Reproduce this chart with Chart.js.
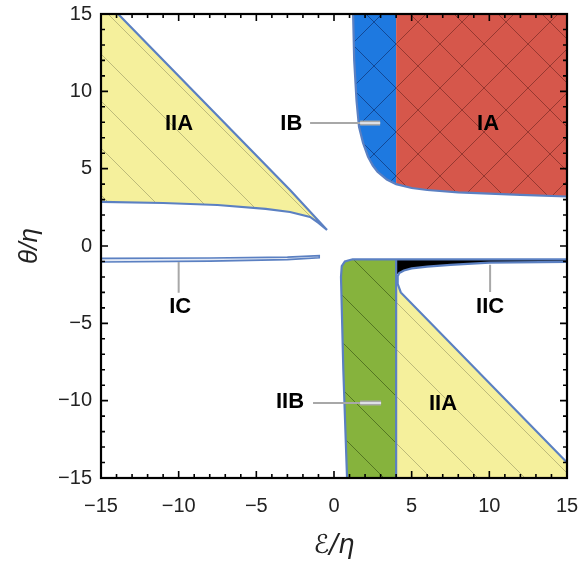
<!DOCTYPE html>
<html>
<head>
    <title>Phase diagram</title>
    <script src="https://cdn.jsdelivr.net/npm/chart.js@4.4.1/dist/chart.umd.min.js"></script>
    <style>
        body { margin: 0; background: #fff; }
    </style>
</head>
<body>
    <canvas id="myChart" width="582" height="564"></canvas>

    <script>
        // region outlines, as [eps/eta, theta/eta]
        var regionIA = [[4, 15], [15, 15], [15, 3.2], [12, 3.3], [10, 3.38], [8, 3.47], [6, 3.62], [5, 3.75], [4, 4.0]];
        var regionIB = [[1.23, 15], [4, 15], [4, 4.0], [3.4, 4.3], [2.8, 4.8], [2.5, 5.2], [2.19, 5.76], [1.87, 6.66], [1.61, 7.7], [1.45, 9.4], [1.3, 12]];
        var regionIIAup = [[-15, 15], [-13.9, 15], [-2.83, 3.62], [-0.45, 1.04], [-1.0, 1.5], [-1.54, 1.88], [-2.83, 2.2], [-4.4, 2.4], [-7.5, 2.65], [-11, 2.78], [-15, 2.85]];
        var regionIC = [[-15, -0.8], [-8, -0.78], [-3, -0.72], [-0.95, -0.62], [-0.95, -0.76], [-3, -0.88], [-8, -0.98], [-15, -1.03]];
        var regionIIB = [[0.84, -15], [0.6, -8], [0.45, -2.0], [0.5, -1.3], [0.7, -1.0], [1.2, -0.86], [4, -0.86], [4, -15]];
        var regionBlack = [[4, -0.86], [15, -0.86], [15, -1.02], [10, -1.08], [7.5, -1.22], [6, -1.33], [5, -1.45], [4.5, -1.58], [4.2, -1.75], [4, -1.85]];
        var regionIIAlow = [[4, -2.4], [4.1, -2.5], [4.3, -3.0], [15, -14.0], [15, -15], [4, -15]];

        // boundary curves (blue)
        var edgeIAIB = [[1.23, 15], [1.3, 12], [1.45, 9.4], [1.61, 7.7], [1.87, 6.66], [2.19, 5.76], [2.5, 5.2], [2.8, 4.8], [3.4, 4.3], [4, 4.0], [5, 3.75], [6, 3.62], [8, 3.47], [10, 3.38], [12, 3.3], [15, 3.2]];
        var edgeIIAup = [[-13.9, 15], [-2.83, 3.62], [-0.45, 1.04], [-1.0, 1.5], [-1.54, 1.88], [-2.83, 2.2], [-4.4, 2.4], [-7.5, 2.65], [-11, 2.78], [-15, 2.85]];
        var edgeIIB = [[0.84, -15], [0.6, -8], [0.45, -2.0], [0.5, -1.3], [0.7, -1.0], [1.2, -0.86], [4, -0.86], [15, -0.86]];
        var edgeSplit = [[4, -0.86], [4, -15]];
        var edgeIIC = [[15, -1.02], [10, -1.08], [7.5, -1.22], [6, -1.33], [5, -1.45], [4.5, -1.58], [4.2, -1.75], [4.08, -2.0], [4.1, -2.45], [4.3, -3.0], [15, -14.0]];

        // leader lines and labels
        var leaderIB = [[-1.54, 7.95], [2.97, 7.95]];
        var leaderIBend = [[1.68, 7.95], [2.97, 7.95]];
        var leaderIIB = [[-1.35, -10.15], [3.03, -10.15]];
        var leaderIIBend = [[1.68, -10.15], [3.03, -10.15]];
        var leaderIC = [[-10, -1.03], [-10, -3.03]];
        var leaderIIC = [[10.05, -1.22], [10.05, -2.97]];

        var labelText = ['IIA', 'IB', 'IA', 'IC', 'IIC', 'IIB', 'IIA'];
        var labelEps = [-9.98, -2.75, 9.92, -9.9, 10.05, -2.83, 7.02];
        var labelTheta = [7.86, 7.92, 7.86, -3.97, -3.97, -10.08, -10.18];

        var tickValues = [-15, -10, -5, 0, 5, 10, 15];

        var ctx = document.getElementById('myChart').getContext('2d');

        function hatch(bg, ink, size, cross) {
            var c = document.createElement('canvas');
            c.width = size; c.height = size;
            var g = c.getContext('2d');
            g.fillStyle = bg;
            g.fillRect(0, 0, size, size);
            g.strokeStyle = ink;
            g.lineWidth = 0.8;
            g.beginPath();
            g.moveTo(0, 0); g.lineTo(size, size);
            g.moveTo(size - 2, -2); g.lineTo(size + 2, 2);
            g.moveTo(-2, size - 2); g.lineTo(2, size + 2);
            if (cross) {
                g.moveTo(size, 0); g.lineTo(0, size);
                g.moveTo(-2, 2); g.lineTo(2, -2);
                g.moveTo(size - 2, size + 2); g.lineTo(size + 2, size - 2);
            }
            g.stroke();
            return g.createPattern(c, 'repeat');
        }

        function pts(arr) {
            return arr.map(function (p) { return {x: p[0], y: p[1]}; });
        }

        function area(arr, fillStyle) {
            return {
                data: pts(arr), showLine: true, fill: 'shape', tension: 0,
                backgroundColor: fillStyle, borderColor: 'rgba(0,0,0,0)', borderWidth: 0,
                pointRadius: 0, order: 3
            };
        }

        function edge(arr, color, width, order) {
            return {
                data: pts(arr), showLine: true, fill: false, tension: 0,
                borderColor: color, borderWidth: width, pointRadius: 0,
                order: order
            };
        }

        var yellow = hatch('#f5f09c', 'rgba(90,90,60,0.45)', 47, false);
        var green = hatch('#86b33d', 'rgba(20,40,0,0.55)', 47, false);
        var red = hatch('#d6574b', 'rgba(40,0,0,0.45)', 44, true);
        var blue = hatch('#1e79e0', 'rgba(0,0,40,0.5)', 44, true);
        var lineBlue = '#5b80c2';

        var datasets = [
            edge(leaderIBend, '#dde0e6', 2, 0),
            edge(leaderIIBend, '#dde0e6', 2, 0),
            edge(leaderIBend, '#a8a8a8', 5, 1),
            edge(leaderIIBend, '#a8a8a8', 5, 1),
            edge(leaderIB, '#a8a8a8', 2, 1),
            edge(leaderIIB, '#a8a8a8', 2, 1),
            edge(leaderIC, '#a8a8a8', 2, 1),
            edge(leaderIIC, '#a8a8a8', 2, 1),
            edge(edgeIAIB, lineBlue, 2.2, 2),
            edge(edgeIIAup, lineBlue, 2.2, 2),
            edge(edgeIIB, lineBlue, 2.2, 2),
            edge(edgeSplit, lineBlue, 2.2, 2),
            edge(edgeIIC, lineBlue, 2.2, 2),
            edge(regionIC.concat([regionIC[0]]), lineBlue, 1.6, 2),
            area(regionIA, red),
            area(regionIB, blue),
            area(regionIIAup, yellow),
            area(regionIC, '#e4eaf5'),
            area(regionIIB, green),
            area(regionBlack, '#000000'),
            area(regionIIAlow, yellow)
        ];

        var framePlugin = {
            id: 'frame',
            afterDraw: function (chart) {
                var c = chart.ctx, a = chart.chartArea;
                var xs = chart.scales.x, ys = chart.scales.y;
                c.save();
                c.strokeStyle = '#000';
                c.lineWidth = 1.6;
                c.beginPath();
                for (var v = -15; v <= 15; v++) {
                    var len = (v % 5 === 0) ? 7 : 4;
                    var px = xs.getPixelForValue(v), py = ys.getPixelForValue(v);
                    c.moveTo(px, a.bottom); c.lineTo(px, a.bottom - len);
                    c.moveTo(px, a.top); c.lineTo(px, a.top + len);
                    c.moveTo(a.left, py); c.lineTo(a.left + len, py);
                    c.moveTo(a.right, py); c.lineTo(a.right - len, py);
                }
                c.stroke();
                c.lineWidth = 2.2;
                c.strokeRect(a.left, a.top, a.right - a.left, a.bottom - a.top);

                c.fillStyle = '#000';
                c.font = 'bold 22px "Liberation Sans", Arial, sans-serif';
                c.textAlign = 'center';
                c.textBaseline = 'middle';
                for (var i = 0; i < labelText.length; i++) {
                    c.fillText(labelText[i], xs.getPixelForValue(labelEps[i]), ys.getPixelForValue(labelTheta[i]));
                }
                c.restore();
            }
        };

        function minus(value) {
            return String(value).replace('-', '\u2212');
        }

        var chart = new Chart(ctx, {
            type: 'scatter',
            data: { datasets: datasets },
            options: {
                responsive: false,
                animation: false,
                layout: { padding: { top: 14, right: 15, left: 0, bottom: 0 } },
                plugins: {
                    legend: { display: false },
                    tooltip: { enabled: false }
                },
                scales: {
                    x: {
                        type: 'linear',
                        min: -15,
                        max: 15,
                        afterBuildTicks: function (s) { s.ticks = tickValues.map(function (v) { return {value: v}; }); },
                        afterFit: function (s) { s.height = 86; s.paddingLeft = 0; s.paddingRight = 0; },
                        grid: { display: false, drawTicks: false },
                        border: { display: false },
                        ticks: {
                            padding: 16,
                            color: '#222',
                            font: { family: '"Liberation Sans", Arial, sans-serif', size: 20 },
                            callback: minus
                        },
                        title: {
                            display: true,
                            text: '\u2130/\u03b7',
                            color: '#222',
                            padding: { top: 0, bottom: 2 },
                            font: { family: '"DejaVu Sans", "Liberation Sans", sans-serif', size: 26, style: 'italic' }
                        }
                    },
                    y: {
                        type: 'linear',
                        min: -15,
                        max: 15,
                        afterBuildTicks: function (s) { s.ticks = tickValues.map(function (v) { return {value: v}; }); },
                        afterFit: function (s) { s.width = 101; s.paddingTop = 0; s.paddingBottom = 0; },
                        grid: { display: false, drawTicks: false },
                        border: { display: false },
                        ticks: {
                            padding: 9,
                            color: '#222',
                            font: { family: '"Liberation Sans", Arial, sans-serif', size: 20 },
                            callback: minus
                        },
                        title: {
                            display: true,
                            text: '\u03b8/\u03b7',
                            color: '#222',
                            padding: { top: 14, bottom: 0 },
                            font: { family: '"Liberation Sans", Arial, sans-serif', size: 26, style: 'italic' }
                        }
                    }
                }
            },
            plugins: [framePlugin]
        });
    </script>
</body>
</html>
